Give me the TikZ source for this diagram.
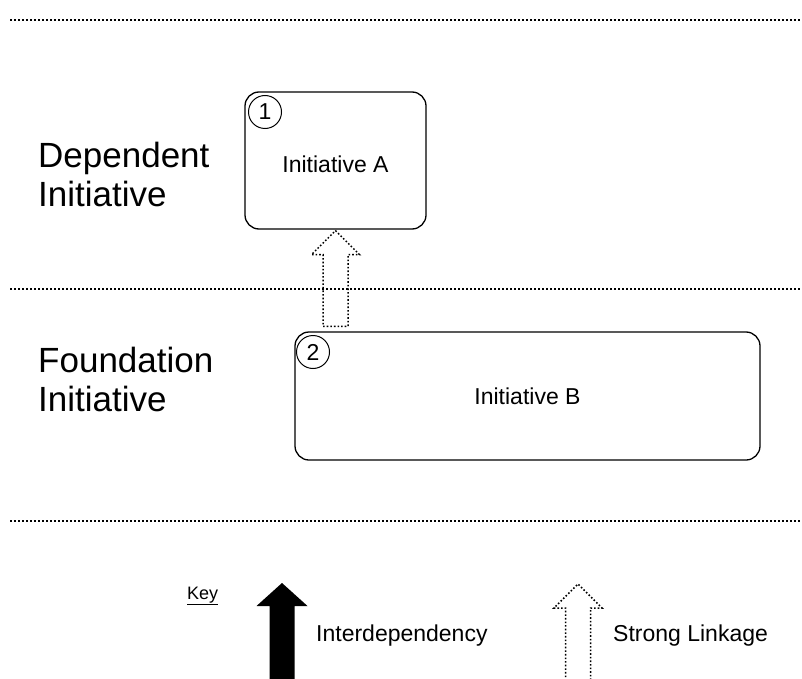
\documentclass[tikz,border=0pt]{standalone}
\usepackage{fontspec}
\setmainfont{Liberation Sans}
\usetikzlibrary{calc}
\begin{document}
\begin{tikzpicture}[x=1pt,y=-1pt,
  divider/.style={line width=1.4pt, dash pattern=on 1.6pt off 2.4pt},
  initbox/.style={draw, rounded corners=14pt, line width=1.3pt, inner sep=0pt,
    font=\fontsize{23}{27}\selectfont},
  badge/.style={draw, circle, line width=1pt, minimum size=33pt, inner sep=0pt,
    font=\fontsize{23}{27}\selectfont},
  tierlabel/.style={anchor=north west, align=left, inner sep=0pt,
    font=\fontsize{35}{39}\selectfont},
  keytext/.style={anchor=base west, inner sep=0pt, font=\fontsize{23}{27}\selectfont},
  linkage/.style={line width=1.5pt, dash pattern=on 1.6pt off 2pt},
]
\useasboundingbox (0,0) rectangle (802,679);

% tier dividers
\draw[divider] (10,20) -- (802,20);
\draw[divider] (10,289) -- (802,289);
\draw[divider] (10,521) -- (802,521);

% tier labels
\node[tierlabel] (dep) at (38,142) {Dependent\\Initiative};
\node[tierlabel] (found) at (38,347) {Foundation\\Initiative};

% initiatives
\node[initbox, minimum width=181pt, minimum height=137pt] (A) at (335.5,160.5)
  {\raisebox{-12pt}[0pt][0pt]{Initiative A}};
\node[initbox, minimum width=465pt, minimum height=128pt] (B) at (527.5,396) {Initiative B};
\node[badge] (n1) at (265,112) {1};
\node[badge] (n2) at (313,352) {2};

% strong linkage from B up to A
\coordinate (tip) at ([yshift=-1pt]A.south);
\coordinate (foot) at ([yshift=5pt]tip |- B.north);
\draw[linkage] (tip) -- ++(24,24) -| ($(foot)+(12.5,0)$) -- ($(foot)+(-12.5,0)$)
  |- ($(tip)+(-24,24)$) -- cycle;

% key
\node[keytext, font=\fontsize{18}{22}\selectfont] (key) at (187,599) {\underline{Key}};
\fill (282,583) -- (307.5,606) -- (294.5,606) -- (294.5,680) -- (269.5,680)
  -- (269.5,606) -- (256.5,606) -- cycle;
\node[keytext] (inter) at (316,641) {Interdependency};
\draw[linkage] (590.5,680) -- (590.5,608) -- (602,608) -- (578,584) -- (554,608)
  -- (565.5,608) -- (565.5,680);
\node[keytext] (strong) at (613,641) {Strong Linkage};
\end{tikzpicture}
\end{document}
